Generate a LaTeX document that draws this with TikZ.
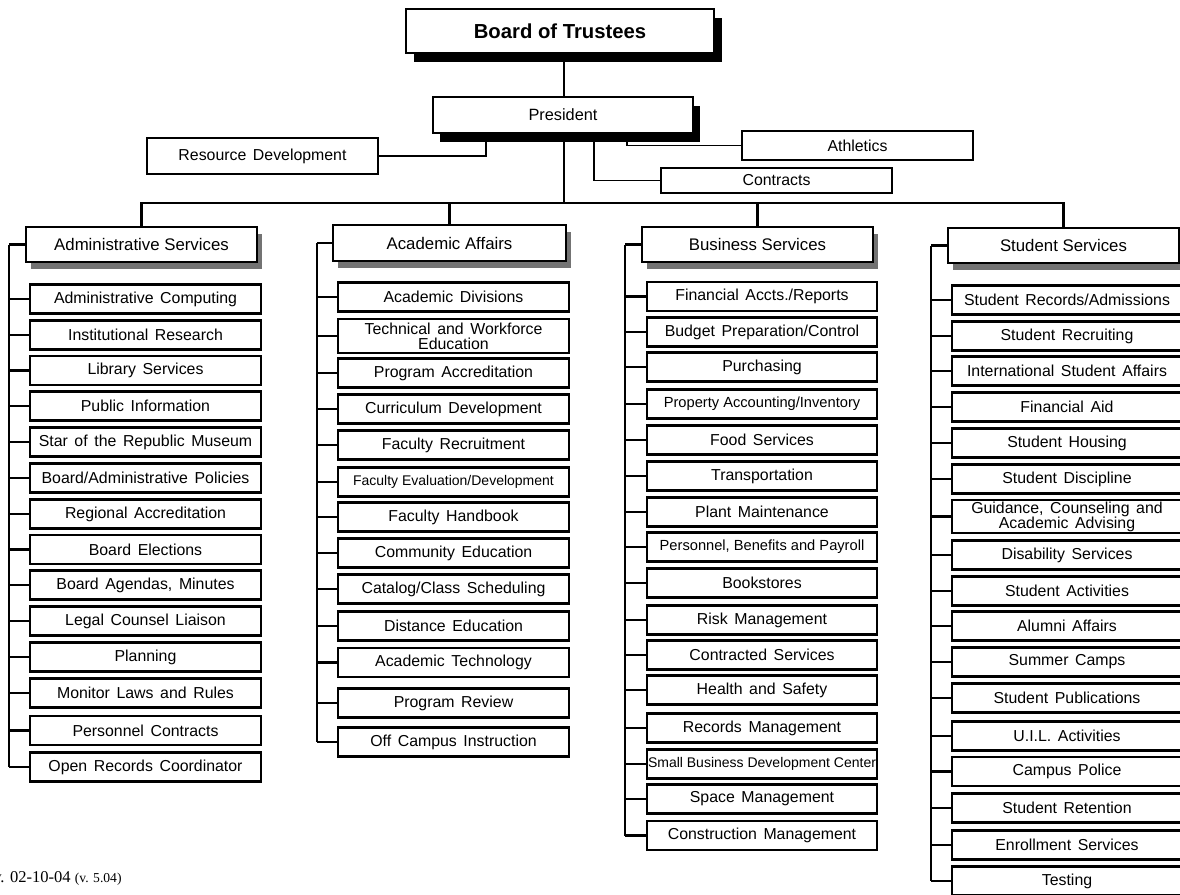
\documentclass[tikz,border=0pt]{standalone}
\usepackage{fontspec}
\setmainfont{Liberation Sans}
\newfontfamily\itemfont{Liberation Sans}[WordSpace=1.5]
\newfontfamily\revfont{Liberation Serif}
\usetikzlibrary{shadows,backgrounds}
\begin{document}
\begin{tikzpicture}[x=0.75pt,y=-0.75pt,
  box/.style={draw, fill=white, inner sep=0pt, align=center},
  item/.style={box, line width=1.6pt, minimum width=173.25pt, minimum height=21.75pt,
    font=\itemfont\fontsize{11.9}{11.25}\selectfont},
  tight/.style={font=\fontsize{10.5}{11}\selectfont},
  semitight/.style={font=\fontsize{11}{11}\selectfont},
  head/.style={box, line width=2pt, minimum width=173.25pt, minimum height=26.25pt,
    font=\fontsize{12.6}{14}\selectfont,
    drop shadow={fill=black!55, opacity=1, shadow xshift=3.75pt, shadow yshift=-5.25pt}},
  side/.style={box, line width=1.6pt, minimum width=173.25pt,
    font=\itemfont\fontsize{11.9}{12}\selectfont},
  conn/.style={line width=1.6pt},
  thinconn/.style={line width=1.1pt}]
\path[use as bounding box] (0,0) rectangle (1180,894);
\clip (0,0) rectangle (1180,894);

% top
\node[box, line width=1.6pt, minimum width=231pt, minimum height=33pt,
  font=\bfseries\fontsize{15.2}{17}\selectfont,
  drop shadow={fill=black, opacity=1, shadow xshift=6pt, shadow yshift=-6.75pt}]
  (board) at (560,31) {Board of Trustees};
\node[box, line width=1.6pt, minimum width=195pt, minimum height=27pt,
  font=\fontsize{12.25}{14}\selectfont,
  drop shadow={fill=black, opacity=1, shadow xshift=5.25pt, shadow yshift=-6.75pt}]
  (pres) at (563,115) {President};
\node[side, minimum height=27pt] (rd) at (262.5,156) {Resource Development};
\node[side, minimum height=21.75pt] (ath) at (857.5,145.5) {Athletics};
\node[side, minimum height=18.75pt] (con) at (776.5,180.5) {Contracts};

\coordinate (bus) at (564,203);
\coordinate (rdx) at (486,0);
\coordinate (athx) at (627,0);
\coordinate (conx) at (594,0);

% department heads
\node[head] (adm) at (141.5,244.5) {Administrative Services};
\node[head, minimum width=174.75pt, minimum height=27pt] (aca) at (449.5,243) {Academic Affairs};
\node[head] (bsv) at (757.5,244.5) {Business Services};
\node[head] (stu) at (1063.5,245.5) {Student Services};

\coordinate (aL) at (9,0);
\coordinate (cL) at (317,0);
\coordinate (bL) at (625,0);
\coordinate (sL) at (931,0);

% Administrative Services
\node[item] (a1) at (145.5,299) {Administrative Computing};
\node[item] (a2) at (145.5,335) {Institutional Research};
\node[item] (a3) at (145.5,370.5) {Library Services};
\node[item] (a4) at (145.5,406) {Public Information};
\node[item] (a5) at (145.5,442) {Star of the Republic Museum};
\node[item] (a6) at (145.5,478) {Board/Administrative Policies};
\node[item] (a7) at (145.5,514) {Regional Accreditation};
\node[item] (a8) at (145.5,549.5) {Board Elections};
\node[item] (a9) at (145.5,585) {Board Agendas, Minutes};
\node[item] (a10) at (145.5,621) {Legal Counsel Liaison};
\node[item] (a11) at (145.5,657) {Planning};
\node[item] (a12) at (145.5,693) {Monitor Laws and Rules};
\node[item] (a13) at (145.5,730.5) {Personnel Contracts};
\node[item] (a14) at (145.5,767) {Open Records Coordinator};

% Academic Affairs
\node[item] (c1) at (453.5,297) {Academic Divisions};
\node[item, minimum height=25.5pt] (c2) at (453.5,336) {Technical and Workforce\\Education};
\node[item] (c3) at (453.5,373) {Program Accreditation};
\node[item] (c4) at (453.5,409) {Curriculum Development};
\node[item] (c5) at (453.5,445) {Faculty Recruitment};
\node[item, tight] (c6) at (453.5,482) {Faculty Evaluation/Development};
\node[item] (c7) at (453.5,517) {Faculty Handbook};
\node[item] (c8) at (453.5,553) {Community Education};
\node[item] (c9) at (453.5,589) {Catalog/Class Scheduling};
\node[item] (c10) at (453.5,626) {Distance Education};
\node[item] (c11) at (453.5,662.5) {Academic Technology};
\node[item] (c12) at (453.5,703) {Program Review};
\node[item] (c13) at (453.5,742) {Off Campus Instruction};

% Business Services
\node[item, minimum width=172.5pt] (b1) at (762,296.5) {Financial Accts./Reports};
\node[item, minimum width=172.5pt] (b2) at (762,332) {Budget Preparation/Control};
\node[item, minimum width=172.5pt] (b3) at (762,367) {Purchasing};
\node[item, minimum width=172.5pt, semitight] (b4) at (762,404) {Property Accounting/Inventory};
\node[item, minimum width=172.5pt] (b5) at (762,440) {Food Services};
\node[item, minimum width=172.5pt] (b6) at (762,476) {Transportation};
\node[item, minimum width=172.5pt] (b7) at (762,512) {Plant Maintenance};
\node[item, minimum width=172.5pt, semitight] (b8) at (762,547) {Personnel, Benefits and Payroll};
\node[item, minimum width=172.5pt] (b9) at (762,583) {Bookstores};
\node[item, minimum width=172.5pt] (b10) at (762,620) {Risk Management};
\node[item, minimum width=172.5pt] (b11) at (762,655) {Contracted Services};
\node[item, minimum width=172.5pt] (b12) at (762,690) {Health and Safety};
\node[item, minimum width=172.5pt] (b13) at (762,728) {Records Management};
\node[item, minimum width=172.5pt, tight] (b14) at (762,764) {Small Business Development Center};
\node[item, minimum width=172.5pt] (b15) at (762,799) {Space Management};
\node[item, minimum width=172.5pt] (b16) at (762,835.5) {Construction Management};

% Student Services
\node[item, minimum width=172.5pt] (s1) at (1067,300) {Student Records/Admissions};
\node[item, minimum width=172.5pt] (s2) at (1067,336) {Student Recruiting};
\node[item, minimum width=172.5pt] (s3) at (1067,371) {International Student Affairs};
\node[item, minimum width=172.5pt] (s4) at (1067,407) {Financial Aid};
\node[item, minimum width=172.5pt] (s5) at (1067,443) {Student Housing};
\node[item, minimum width=172.5pt] (s6) at (1067,479) {Student Discipline};
\node[item, minimum width=172.5pt, minimum height=24.75pt] (s7) at (1067,516.5) {Guidance, Counseling and\\Academic Advising};
\node[item, minimum width=172.5pt] (s8) at (1067,555) {Disability Services};
\node[item, minimum width=172.5pt] (s9) at (1067,591) {Student Activities};
\node[item, minimum width=172.5pt] (s10) at (1067,626) {Alumni Affairs};
\node[item, minimum width=172.5pt] (s11) at (1067,662) {Summer Camps};
\node[item, minimum width=172.5pt] (s12) at (1067,698) {Student Publications};
\node[item, minimum width=172.5pt] (s13) at (1067,736) {U.I.L. Activities};
\node[item, minimum width=172.5pt] (s14) at (1067,771.5) {Campus Police};
\node[item, minimum width=172.5pt] (s15) at (1067,808) {Student Retention};
\node[item, minimum width=172.5pt] (s16) at (1067,845) {Enrollment Services};
\node[item, minimum width=172.5pt] (s17) at (1067,881) {Testing};

\node[anchor=base west, inner sep=0pt, font=\revfont\fontsize{12.4}{13}\selectfont]
  (rev) at (-7,882) {v. 02-10-04 {\fontsize{10.2}{11}\selectfont(v. 5.04)}};

\begin{scope}[on background layer]
  \draw[conn] (pres.north -| bus) -- (board.south -| bus);
  \draw[conn] (pres.south -| bus) -- (bus);
  \draw[conn] (adm.north) -- (adm.north |- bus) -- (stu.north |- bus) -- (stu.north);
  \draw[conn] (aca.north |- bus) -- (aca.north);
  \draw[conn] (bsv.north |- bus) -- (bsv.north);
  \draw[thinconn] (pres.south -| rdx) |- (rd.east);
  \draw[thinconn] (pres.south -| athx) |- (ath.west);
  \draw[thinconn] (pres.south -| conx) |- (con.west);
  % side spines
  \draw[conn] (aL |- adm.west) -- (adm.west);
  \draw[conn] (aL |- adm.west) -- (aL |- a14.west);
  \foreach \n in {1,...,14} {\draw[conn] (aL |- a\n.west) -- (a\n.west);}
  \draw[conn] (cL |- aca.west) -- (aca.west);
  \draw[conn] (cL |- aca.west) -- (cL |- c13.west);
  \foreach \n in {1,...,13} {\draw[conn] (cL |- c\n.west) -- (c\n.west);}
  \draw[conn] (bL |- bsv.west) -- (bsv.west);
  \draw[conn] (bL |- bsv.west) -- (bL |- b16.west);
  \foreach \n in {1,...,16} {\draw[conn] (bL |- b\n.west) -- (b\n.west);}
  \draw[conn] (sL |- stu.west) -- (stu.west);
  \draw[conn] (sL |- stu.west) -- (sL |- s17.west);
  \foreach \n in {1,...,17} {\draw[conn] (sL |- s\n.west) -- (s\n.west);}
\end{scope}
\end{tikzpicture}
\end{document}
